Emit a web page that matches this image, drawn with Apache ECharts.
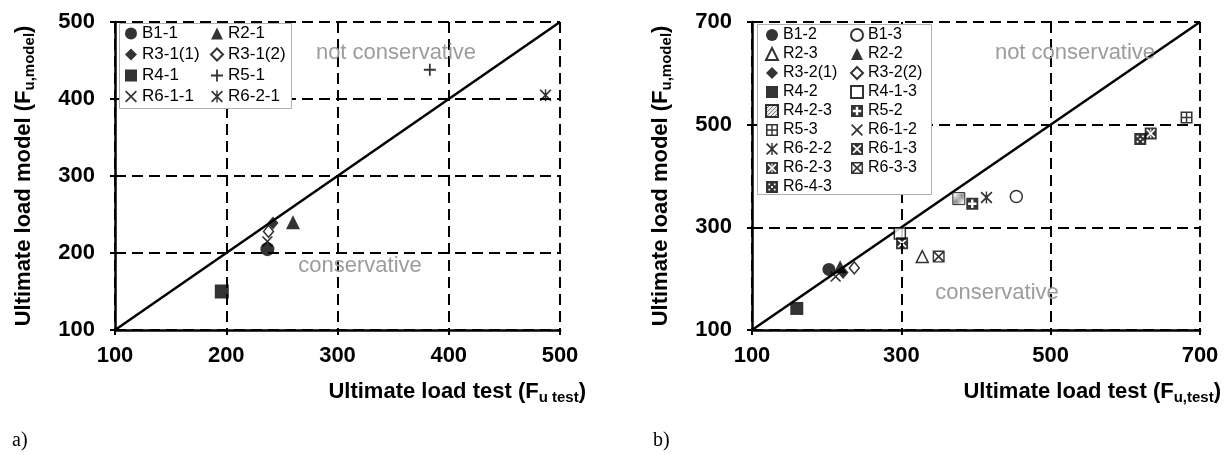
<!DOCTYPE html>
<html>
<head>
<meta charset="utf-8">
<script src="https://cdn.jsdelivr.net/npm/echarts@6/dist/echarts.min.js"></script>
<style>
html,body{margin:0;padding:0;background:#fff;}
#main{width:1224px;height:455px;}
</style>
</head>
<body>
<div id="main"></div>
<script>
// ---------- data (x = ultimate load test, y = ultimate load model) ----------
// chart a)
const ticksA = [100, 200, 300, 400, 500];
const B1_1   = [[237, 205]];
const R2_1   = [[260, 240]];
const R3_1_1 = [[242, 239]];
const R3_1_2 = [[238, 228]];
const R4_1   = [[196, 150]];
const R5_1   = [[383, 438]];
const R6_1_1 = [[237, 215]];
const R6_2_1 = [[487, 405]];
const lineA  = [[100, 100], [500, 500]];

// chart b)
const ticksB = [100, 300, 500, 700];
const B1_2   = [[203, 218]];
const B1_3   = [[454, 360]];
const R2_3   = [[328, 243]];
const R2_2   = [[218, 223]];
const R3_2_1 = [[222, 212]];
const R3_2_2 = [[237, 221]];
const R4_2   = [[160, 142]];
const R4_1_3 = [[298, 288]];
const R4_2_3 = [[377, 356]];
const R5_2   = [[395, 346]];
const R5_3   = [[682, 514]];
const R6_1_2 = [[212, 204]];
const R6_2_2 = [[414, 358]];
const R6_1_3 = [[301, 269]];
const R6_2_3 = [[634, 483]];
const R6_3_3 = [[350, 243]];
const R6_4_3 = [[620, 472]];
const lineB  = [[100, 100], [700, 700]];

const legendA1 = ['B1-1', 'R3-1(1)', 'R4-1', 'R6-1-1'];
const legendA2 = ['R2-1', 'R3-1(2)', 'R5-1', 'R6-2-1'];
const legendB1 = ['B1-2', 'R2-3', 'R3-2(1)', 'R4-2', 'R4-2-3', 'R5-3', 'R6-2-2', 'R6-2-3', 'R6-4-3'];
const legendB2 = ['B1-3', 'R2-2', 'R3-2(2)', 'R4-1-3', 'R5-2', 'R6-1-2', 'R6-1-3', 'R6-3-3'];

// ---------- symbols ----------
const SQ = 'M0,0H10V10H0Z ';
const SYM = {
  plus: 'path://M4.25,0H5.75V4.25H10V5.75H5.75V10H4.25V5.75H0V4.25H4.25Z',
  cross: 'path://M0,1L1,0L5,4L9,0L10,1L6,5L10,9L9,10L5,6L1,10L0,9L4,5Z',
  star: 'path://M0,1L1,0L5,4L9,0L10,1L6,5L10,9L9,10L5,6L1,10L0,9L4,5Z M4.4,0H5.6V10H4.4Z',
  boxPlusWhite: 'path://' + SQ + 'M4,1.5V4H1.5V6H4V8.5H6V6H8.5V4H6V1.5Z',
  boxGrid: 'path://' + SQ + 'M1.3,1.3V4.4H4.4V1.3Z M5.6,1.3V4.4H8.7V1.3Z M1.3,5.6V8.7H4.4V5.6Z M5.6,5.6V8.7H8.7V5.6Z',
  boxX: 'path://' + SQ + 'M2.2,1.2L5,4L7.8,1.2Z M8.8,2.2L6,5L8.8,7.8Z M7.8,8.8L5,6L2.2,8.8Z M1.2,7.8L4,5L1.2,2.2Z',
  boxXWhite: 'path://' + SQ + 'M1.2,2.2L4,5L1.2,7.8L2.2,8.8L5,6L7.8,8.8L8.8,7.8L6,5L8.8,2.2L7.8,1.2L5,4L2.2,1.2Z',
  boxStarWhite: 'path://' + SQ + 'M1.2,2.2L4,5L1.2,7.8L2.2,8.8L5,6L7.8,8.8L8.8,7.8L6,5L8.8,2.2L7.8,1.2L5,4L2.2,1.2Z M4.5,1.2V3.2H5.5V1.2Z M4.5,6.8V8.8H5.5V6.8Z',
  boxDots: 'path://' + SQ + 'M2,2V3.5H3.5V2Z M6.5,2V3.5H8V2Z M2,6.5V8H3.5V6.5Z M6.5,6.5V8H8V6.5Z M4.25,4.25V5.75H5.75V4.25Z'
};

// hatch pattern
const pc = document.createElement('canvas');
pc.width = 4; pc.height = 4;
const pctx = pc.getContext('2d');
pctx.fillStyle = '#e4e4e4'; pctx.fillRect(0, 0, 4, 4);
pctx.strokeStyle = '#666'; pctx.lineWidth = 1;
pctx.beginPath(); pctx.moveTo(-1, 5); pctx.lineTo(5, -1); pctx.stroke();

const FILL = { color: '#000' };
const HOLLOW = { color: '#fff', borderColor: '#000', borderWidth: 1.5 };
const HATCH = { color: { image: pc, repeat: 'repeat' }, borderColor: '#000', borderWidth: 1 };

function sc(name, data, symbol, size, style, idx) {
  return { type: 'scatter', name: name, data: data, symbol: symbol, symbolSize: size,
           xAxisIndex: idx, yAxisIndex: idx, itemStyle: style, z: 3, silent: true };
}

const FF = '"Liberation Sans", Arial, sans-serif';
const GRAY = '#9c9c9c';
const RICH = {
  t: { fontSize: 22, fontWeight: 'bold', fontFamily: FF, color: '#000', lineHeight: 27 },
  s: { fontSize: 15, fontWeight: 'bold', fontFamily: FF, color: '#000', lineHeight: 15, verticalAlign: 'bottom' }
};

function xAxisCfg(idx, ticks, name, gapEnd) {
  return {
    type: 'value', gridIndex: idx, min: ticks[0], max: ticks[ticks.length - 1],
    axisLine: { show: true, onZero: false, lineStyle: { color: '#000', width: 2.5 } },
    axisTick: { show: true, length: 5, customValues: ticks, lineStyle: { color: '#000', width: 2 } },
    axisLabel: { customValues: ticks, margin: 15, color: '#000', fontSize: 22, fontWeight: 'bold', fontFamily: FF },
    splitLine: { show: true, lineStyle: { color: '#000', width: 2, type: [11, 6] } },
    name: name, nameLocation: 'end', nameGap: gapEnd,
    nameTextStyle: { align: 'right', verticalAlign: 'top', padding: [48, 0, 0, 0], rich: RICH }
  };
}
function yAxisCfg(idx, ticks, name) {
  return {
    type: 'value', gridIndex: idx, min: ticks[0], max: ticks[ticks.length - 1],
    axisLine: { show: true, onZero: false, lineStyle: { color: '#000', width: 2.5 } },
    axisTick: { show: true, length: 5, customValues: ticks, lineStyle: { color: '#000', width: 2 } },
    axisLabel: { customValues: ticks, margin: 20, color: '#000', fontSize: 22, fontWeight: 'bold', fontFamily: FF },
    splitLine: { show: true, lineStyle: { color: '#000', width: 2, type: [11, 6] } },
    name: name, nameLocation: 'middle', nameGap: 78,
    nameTextStyle: { rich: RICH }
  };
}
function legendCfg(data, left, top, fs, gap) {
  return {
    data: data, orient: 'vertical', left: left, top: top, padding: 0,
    itemGap: gap, itemWidth: 12, itemHeight: 12, selectedMode: false, z: 6,
    textStyle: { fontSize: fs, color: '#000', fontFamily: FF }
  };
}

const chart = echarts.init(document.getElementById('main'), null, { renderer: 'canvas' });
chart.setOption({
  animation: false,
  backgroundColor: '#fff',
  grid: [
    { left: 115, top: 22, width: 445, height: 308 },
    { left: 752, top: 22, width: 449, height: 308 }
  ],
  xAxis: [
    xAxisCfg(0, ticksA, '{t|Ultimate load test (F}{s|u test}{t|)}', 26),
    xAxisCfg(1, ticksB, '{t|Ultimate load test (F}{s|u,test}{t|)}', 21)
  ],
  yAxis: [
    yAxisCfg(0, ticksA, '{t|Ultimate load model (F}{s|u,model}{t|)}'),
    yAxisCfg(1, ticksB, '{t|Ultimate load model (F}{s|u,model}{t|)}')
  ],
  legend: [
    legendCfg(legendA1, 125, 25, 17, 4),
    legendCfg(legendA2, 210, 25, 17, 4),
    legendCfg(legendB1, 765, 27, 16, 3),
    legendCfg(legendB2, 850, 27, 16, 3)
  ],
  graphic: [
    { type: 'rect', z: 5, shape: { x: 119.5, y: 23.5, width: 172, height: 85 },
      style: { fill: '#fff', stroke: '#b0b0b0', lineWidth: 1 } },
    { type: 'rect', z: 5, shape: { x: 757.5, y: 24.5, width: 174, height: 170 },
      style: { fill: '#fff', stroke: '#b0b0b0', lineWidth: 1 } },
    { type: 'text', z: 4, x: 396, y: 53, style: { text: 'not conservative', fill: GRAY, font: '22px ' + FF, align: 'center', verticalAlign: 'middle' } },
    { type: 'text', z: 4, x: 360, y: 266, style: { text: 'conservative', fill: GRAY, font: '22px ' + FF, align: 'center', verticalAlign: 'middle' } },
    { type: 'text', z: 4, x: 1075, y: 53, style: { text: 'not conservative', fill: GRAY, font: '22px ' + FF, align: 'center', verticalAlign: 'middle' } },
    { type: 'text', z: 4, x: 997, y: 293, style: { text: 'conservative', fill: GRAY, font: '22px ' + FF, align: 'center', verticalAlign: 'middle' } },
    { type: 'text', x: 12, y: 441, style: { text: 'a)', fill: '#000', font: '20px "Liberation Serif", "Times New Roman", serif', verticalAlign: 'middle' } },
    { type: 'text', x: 653, y: 441, style: { text: 'b)', fill: '#000', font: '20px "Liberation Serif", "Times New Roman", serif', verticalAlign: 'middle' } }
  ],
  series: [
    { type: 'line', name: 'eqA', data: lineA, xAxisIndex: 0, yAxisIndex: 0, symbol: 'none', silent: true, z: 2,
      lineStyle: { color: '#000', width: 2.5 } },
    { type: 'line', name: 'eqB', data: lineB, xAxisIndex: 1, yAxisIndex: 1, symbol: 'none', silent: true, z: 2,
      lineStyle: { color: '#000', width: 2.5 } },
    // chart a
    sc('B1-1', B1_1, 'circle', 14, FILL, 0),
    sc('R2-1', R2_1, 'triangle', 14, FILL, 0),
    sc('R3-1(1)', R3_1_1, 'diamond', [11, 13], FILL, 0),
    sc('R3-1(2)', R3_1_2, 'diamond', [10, 12], HOLLOW, 0),
    sc('R4-1', R4_1, 'rect', 14, FILL, 0),
    sc('R5-1', R5_1, SYM.plus, 12, FILL, 0),
    sc('R6-1-1', R6_1_1, SYM.cross, 11, FILL, 0),
    sc('R6-2-1', R6_2_1, SYM.star, 12, FILL, 0),
    // chart b
    sc('B1-2', B1_2, 'circle', 13, FILL, 1),
    sc('B1-3', B1_3, 'circle', 12, HOLLOW, 1),
    sc('R2-3', R2_3, 'triangle', 12, HOLLOW, 1),
    sc('R2-2', R2_2, 'triangle', 13, FILL, 1),
    sc('R3-2(1)', R3_2_1, 'diamond', [11, 13], FILL, 1),
    sc('R3-2(2)', R3_2_2, 'diamond', [10, 12], HOLLOW, 1),
    sc('R4-2', R4_2, 'rect', 13, FILL, 1),
    sc('R4-1-3', R4_1_3, 'rect', 11, HOLLOW, 1),
    sc('R4-2-3', R4_2_3, 'rect', 12, HATCH, 1),
    sc('R5-2', R5_2, SYM.boxPlusWhite, 12, FILL, 1),
    sc('R5-3', R5_3, SYM.boxGrid, 12, FILL, 1),
    sc('R6-1-2', R6_1_2, SYM.cross, 11, FILL, 1),
    sc('R6-2-2', R6_2_2, SYM.star, 12, FILL, 1),
    sc('R6-1-3', R6_1_3, SYM.boxXWhite, 12, FILL, 1),
    sc('R6-2-3', R6_2_3, SYM.boxStarWhite, 12, FILL, 1),
    sc('R6-3-3', R6_3_3, SYM.boxX, 12, FILL, 1),
    sc('R6-4-3', R6_4_3, SYM.boxDots, 12, FILL, 1)
  ]
});
</script>
</body>
</html>
